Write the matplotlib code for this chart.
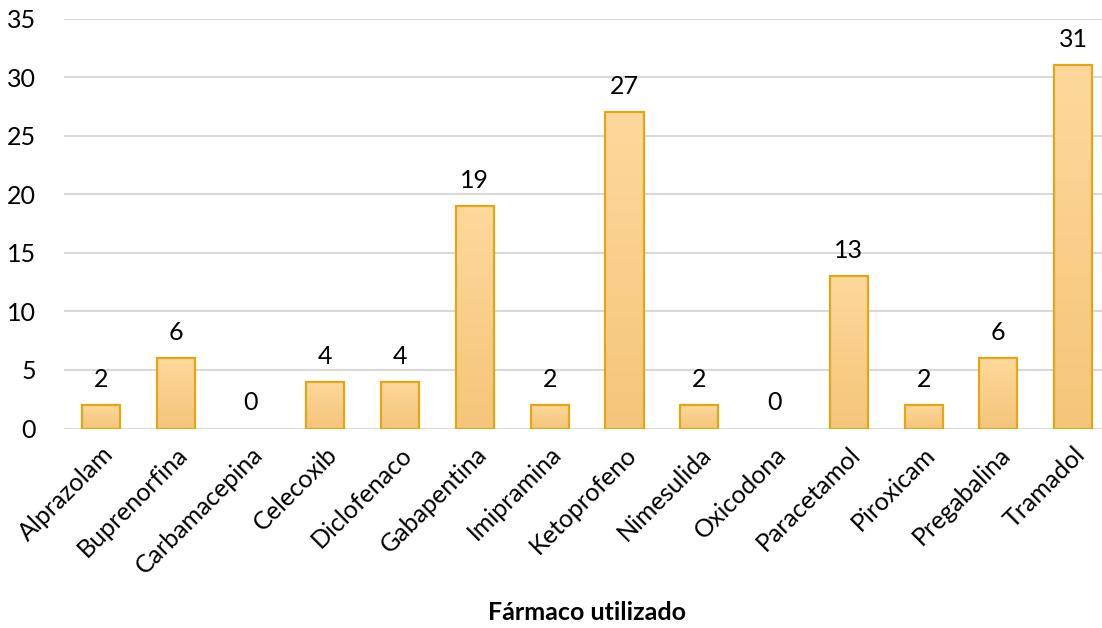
import numpy as np
import matplotlib
matplotlib.use("Agg")
import matplotlib.pyplot as plt
from matplotlib.colors import LinearSegmentedColormap

plt.rcParams['font.family'] = ['Lato', 'DejaVu Sans']

farmacos = ["Alprazolam", "Buprenorfina", "Carbamacepina", "Celecoxib", "Diclofenaco",
            "Gabapentina", "Imipramina", "Ketoprofeno", "Nimesulida", "Oxicodona",
            "Paracetamol", "Piroxicam", "Pregabalina", "Tramadol"]
valores = [2, 6, 0, 4, 4, 19, 2, 27, 2, 0, 13, 2, 6, 31]
y_ticks = [0, 5, 10, 15, 20, 25, 30, 35]

W, H = 1102, 628
fig = plt.figure(figsize=(W / 100, H / 100), dpi=100)
left, right, bottom, top = 63.6, 1110.6, 428.5, 18.5
ax = fig.add_axes([left / W, 1 - bottom / H, (right - left) / W, (bottom - top) / H])

for s in ax.spines.values():
    s.set_visible(False)
ax.set_yticks(y_ticks)
ax.yaxis.grid(True, color="#D9D9D9", linewidth=1.5)
ax.set_axisbelow(True)
ax.tick_params(axis='both', length=0, labelsize=18, colors="#000000")
ax.tick_params(axis='y', pad=20)

x = np.arange(len(farmacos))
bw = 0.51
cmap = LinearSegmentedColormap.from_list("grad", ["#F5C57A", "#FED89C"])
grad = np.linspace(0, 1, 256).reshape(-1, 1)
for xi, v in zip(x, valores):
    if v > 0:
        ax.imshow(grad, extent=[xi - bw / 2, xi + bw / 2, 0, v], origin='lower',
                  cmap=cmap, aspect='auto', zorder=2, interpolation='bilinear')
        ax.bar(xi, v, width=bw, facecolor='none', edgecolor="#E3A714",
               linewidth=1.6, zorder=3)
ax.set_xlim(-0.5, len(farmacos) - 0.5)
ax.set_ylim(0, 35)

for xi, v in zip(x, valores):
    ax.annotate(str(v), (xi, v), xytext=(0, 13), textcoords='offset points',
                ha='center', va='baseline', fontsize=18, color="#000000")

ax.set_xticks(x)
ax.set_xticklabels(farmacos, rotation=45, ha='right', rotation_mode='anchor')
ax.tick_params(axis='x', pad=10)

fig.text(587 / W, 1 - 612 / H, "Fármaco utilizado", ha='center', va='center',
         fontsize=18, fontweight='bold')

fig.savefig("out.png", dpi=100)
